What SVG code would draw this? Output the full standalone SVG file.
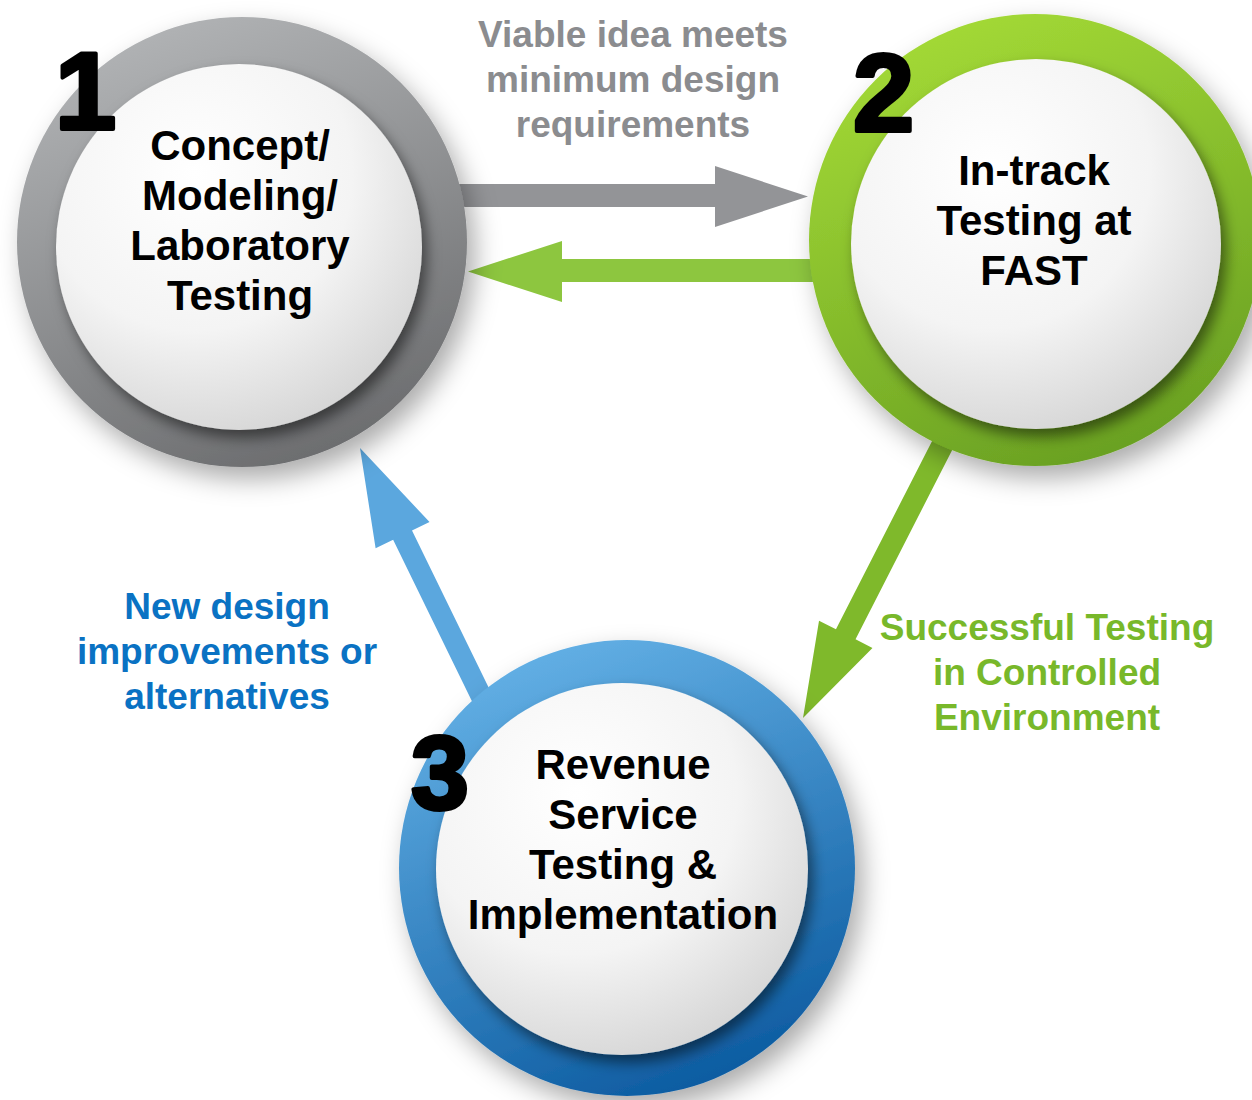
<svg xmlns="http://www.w3.org/2000/svg" width="1252" height="1100" viewBox="0 0 1252 1100">
  <defs>
    <style>
      .lbl { font-family: "Liberation Sans", Arial, sans-serif; font-weight: bold; font-size: 37px; text-anchor: middle; }
      .title { font-family: "Liberation Sans", Arial, sans-serif; font-weight: bold; font-size: 42px; text-anchor: middle; fill: #000; }
      .num { font-family: "Liberation Sans", Arial, sans-serif; font-weight: bold; fill: #000; stroke: #000; stroke-width: 4; stroke-linejoin: round; }
      .ball { fill: url(#ballFill); filter: url(#ballShadow); }
    </style>
    <radialGradient id="ballFill" cx="0.38" cy="0.3" r="0.78">
      <stop offset="0" stop-color="#ffffff"/>
      <stop offset="0.55" stop-color="#f4f4f4"/>
      <stop offset="1" stop-color="#d2d2d2"/>
    </radialGradient>
    <linearGradient id="grayRing" x1="0.3" y1="0" x2="0.7" y2="1">
      <stop offset="0" stop-color="#b2b4b6"/>
      <stop offset="1" stop-color="#6a6b6d"/>
    </linearGradient>
    <linearGradient id="greenRing" x1="0.3" y1="0" x2="0.7" y2="1">
      <stop offset="0" stop-color="#a4da36"/>
      <stop offset="1" stop-color="#689f22"/>
    </linearGradient>
    <linearGradient id="blueRing" x1="0.3" y1="0" x2="0.7" y2="1">
      <stop offset="0" stop-color="#64b1e6"/>
      <stop offset="1" stop-color="#0a599f"/>
    </linearGradient>
    <filter id="ringShadow" x="-20%" y="-20%" width="150%" height="150%">
      <feDropShadow dx="8" dy="12" stdDeviation="13" flood-color="#000" flood-opacity="0.33"/>
    </filter>
    <filter id="ballShadow" x="-20%" y="-20%" width="150%" height="150%">
      <feDropShadow dx="5" dy="8" stdDeviation="7" flood-color="#000" flood-opacity="0.5"/>
    </filter>
  </defs>

  <rect width="1252" height="1100" fill="#ffffff"/>

  <!-- connectors: block arrows; the rotated ones are drawn along +x with the tip at the origin -->
  <g id="connectors">
    <!-- 1 -> 2 -->
    <path fill="#939497" d="M440,184 L715,184 L715,166 L808,196.5 L715,227 L715,207 L440,207 Z"/>
    <!-- 2 -> 1 -->
    <path fill="#8dc63f" d="M840,259 L562,259 L562,241 L468,271.5 L562,302 L562,282 L840,282 Z"/>
    <!-- 2 -> 3 -->
    <path fill="#7fb92b" transform="translate(803,718) rotate(117.05)" d="M0,0 L-94,-30 L-94,-11 L-345,-11 L-345,11 L-94,11 L-94,30 Z"/>
    <!-- 3 -> 1 -->
    <path fill="#5ba7de" transform="translate(360,448) rotate(-116.03)" d="M0,0 L-97,-30 L-97,-10.5 L-300,-10.5 L-300,10.5 L-97,10.5 L-97,30 Z"/>
  </g>

  <g id="node-1">
    <circle cx="242" cy="242" r="225" fill="url(#grayRing)" filter="url(#ringShadow)"/>
    <circle class="ball" cx="239" cy="247" r="183"/>
    <text class="title" x="240" y="160">Concept/</text>
    <text class="title" x="240" y="210">Modeling/</text>
    <text class="title" x="240" y="260">Laboratory</text>
    <text class="title" x="240" y="310">Testing</text>
    <text class="num" x="55" y="129" font-size="110">1</text>
  </g>

  <g id="node-2">
    <circle cx="1035" cy="240" r="226" fill="url(#greenRing)" filter="url(#ringShadow)"/>
    <circle class="ball" cx="1036" cy="244" r="185"/>
    <text class="title" x="1034" y="185">In-track</text>
    <text class="title" x="1034" y="235">Testing at</text>
    <text class="title" x="1034" y="285">FAST</text>
    <text class="num" x="853" y="131" font-size="110">2</text>
  </g>

  <g id="node-3">
    <circle cx="627" cy="868" r="228" fill="url(#blueRing)" filter="url(#ringShadow)"/>
    <circle class="ball" cx="622" cy="869" r="186"/>
    <text class="title" x="623" y="779">Revenue</text>
    <text class="title" x="623" y="829">Service</text>
    <text class="title" x="623" y="879">Testing &amp;</text>
    <text class="title" x="623" y="929">Implementation</text>
    <text class="num" x="411" y="809" font-size="104">3</text>
  </g>

  <g id="labels">
    <text class="lbl" fill="#8b8c8f" x="633" y="47">Viable idea meets</text>
    <text class="lbl" fill="#8b8c8f" x="633" y="92">minimum design</text>
    <text class="lbl" fill="#8b8c8f" x="633" y="137">requirements</text>

    <text class="lbl" fill="#78b82a" x="1047" y="640">Successful Testing</text>
    <text class="lbl" fill="#78b82a" x="1047" y="685">in Controlled</text>
    <text class="lbl" fill="#78b82a" x="1047" y="730">Environment</text>

    <text class="lbl" fill="#0a72c3" x="227" y="619">New design</text>
    <text class="lbl" fill="#0a72c3" x="227" y="664">improvements or</text>
    <text class="lbl" fill="#0a72c3" x="227" y="709">alternatives</text>
  </g>
</svg>
